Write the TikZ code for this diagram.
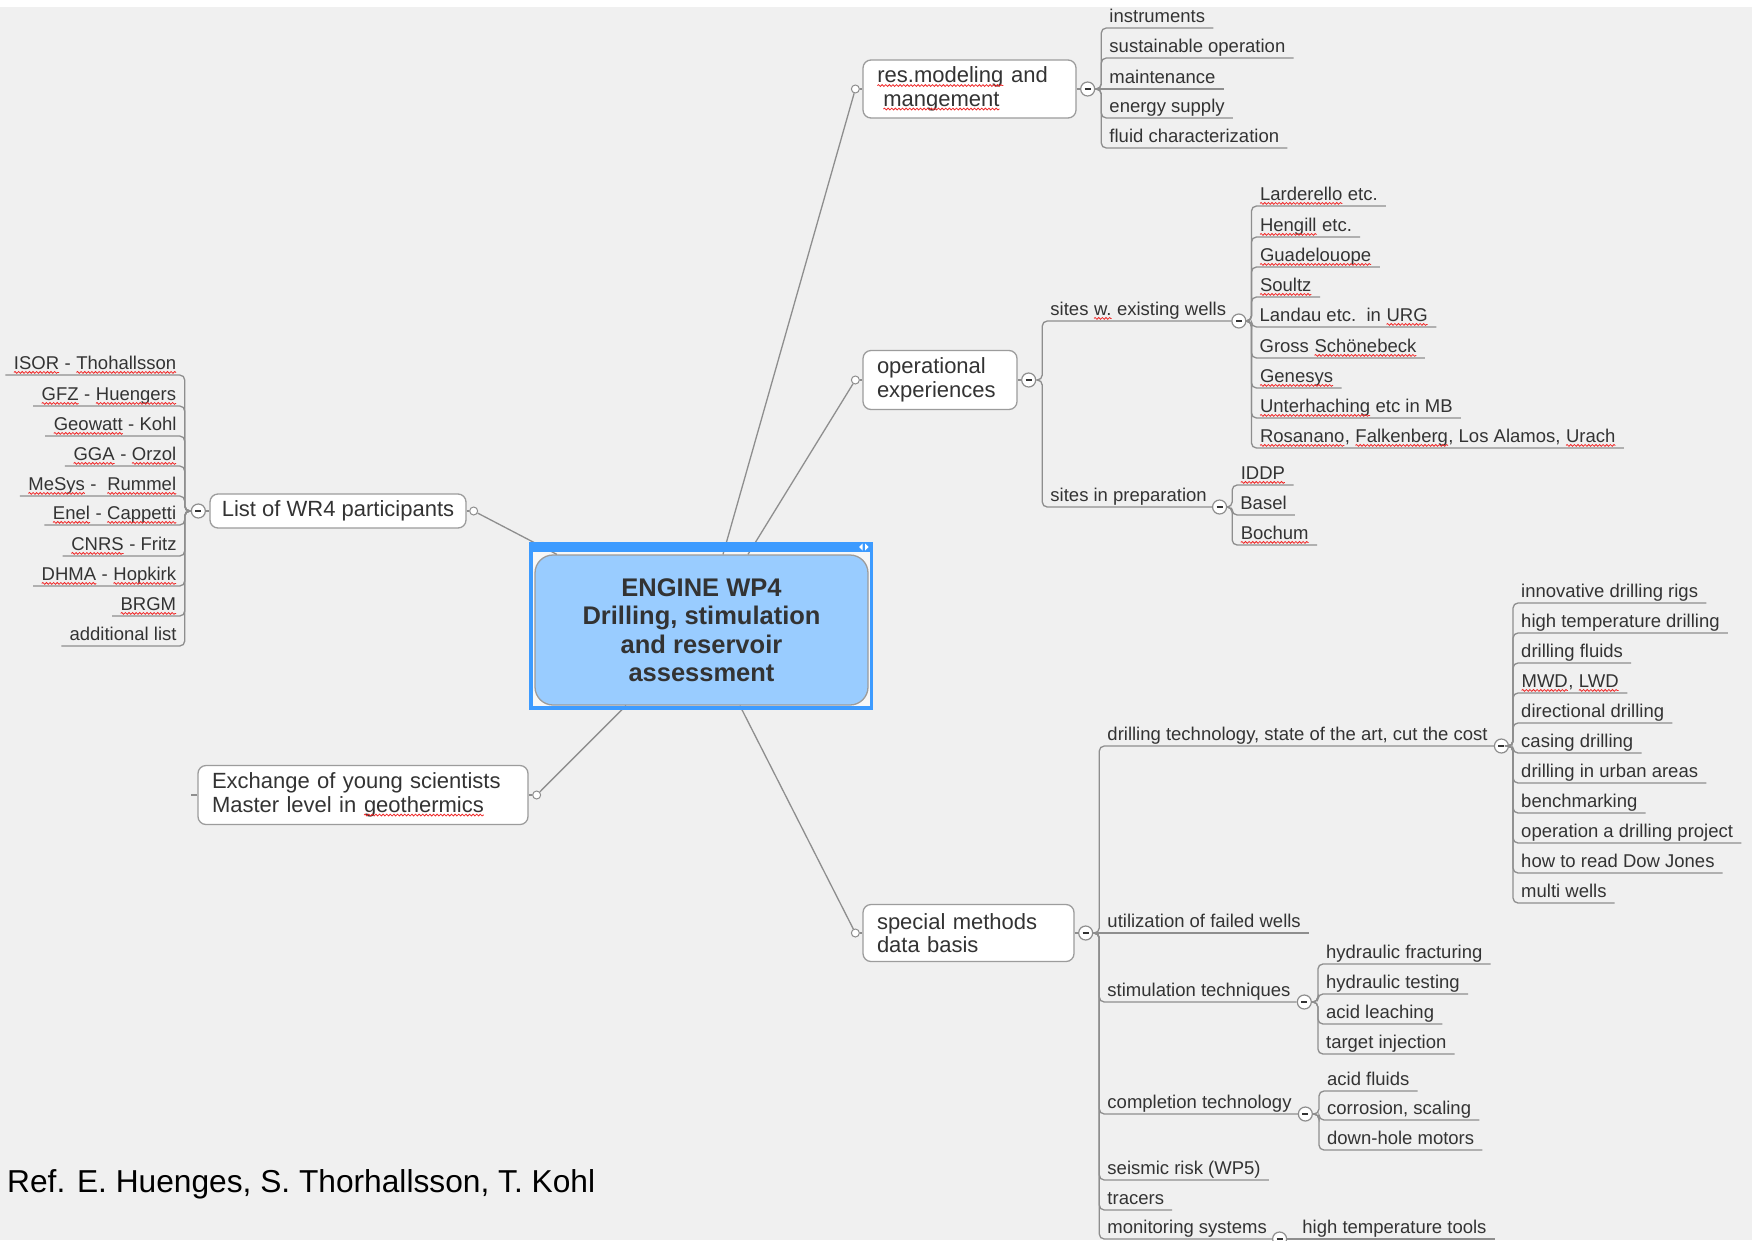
\documentclass[tikz,border=0pt]{standalone}
\usepackage{fontspec}
\setmainfont{Liberation Sans}
\usetikzlibrary{decorations.pathmorphing}
\definecolor{bgcol}{HTML}{F0F0F0}
\definecolor{linegray}{HTML}{8E8E8E}
\definecolor{boxgray}{HTML}{9C9C9C}
\definecolor{txt}{HTML}{333333}
\definecolor{blueB}{HTML}{3D9BFF}
\definecolor{lblue}{HTML}{99CCFF}
\definecolor{gapcol}{HTML}{F7F7F7}
\definecolor{sqred}{HTML}{F02828}
\newcommand\leaffont{\fontsize{18.5}{21}\selectfont}
\newcommand\topicfont{\fontsize{22}{23.5}\selectfont}
\newcommand\sq[1]{\tikz[baseline=(sqw.base)]{\node[draw=none,fill=none,inner sep=0pt,outer sep=0pt,anchor=base,text height=,text depth=,text width=,align=none,minimum width=0pt,minimum height=0pt](sqw){#1};\draw[sqred,sharp corners,line width=0.8pt,decorate,decoration={snake,amplitude=0.9pt,segment length=3.6pt}]([yshift=-2.6pt]sqw.base west)--([yshift=-2.6pt]sqw.base east);}}
\newcommand\brR[2]{\draw[conn] (#1.east) -| (#2.south west) -- (#2.south east);}
\newcommand\brS[2]{\draw[straight] (#1.east) -- (#2.south east);}
\newcommand\brP[3]{\draw[conn] (#1.east) -| (#2.south west) -- (#3.west);}
\newcommand\brL[2]{\draw[conn] (#1.west) -| (#2.south east) -- (#2.south west);}
\tikzset{
  straight/.style={draw=linegray, line width=1.3pt},
  conn/.style={straight, rounded corners=5pt},
  leafR/.style={anchor=south west, inner xsep=8pt, inner ysep=1pt, text height=13.5pt, text depth=4pt, font=\leaffont, text=txt},
  leafL/.style={leafR, anchor=south east},
  topic/.style={draw=boxgray, fill=white, rounded corners=8pt, line width=1.3pt, inner xsep=14pt, inner ysep=4pt, font=\topicfont, text=txt, align=left},
  col/.style={circle, draw=linegray, fill=white, line width=1.2pt, minimum size=14pt, inner sep=0pt,
    path picture={\draw[line width=1.6pt, txt] ([xshift=-3pt]path picture bounding box.center) -- ([xshift=3pt]path picture bounding box.center);}},
  dot/.style={circle, draw=linegray, fill=white, line width=1pt, minimum size=8pt, inner sep=0pt}
}
\begin{document}
\begin{tikzpicture}[x=1pt,y=-1pt]
\fill[bgcol] (0,0) rectangle (1752,1240);
\fill[white] (0,0) rectangle (1752,7);
\useasboundingbox (0,0) rectangle (1752,1240);
% centre
\fill[gapcol] (531,544) rectangle (871.5,708);
\node[draw=boxgray, fill=lblue, rounded corners=18pt, line width=1.3pt, minimum width=333pt, minimum height=150pt, align=center, font=\bfseries\fontsize{25.5}{28.5}\selectfont, text=txt, inner sep=0pt] (eng) at (701.5,630) {ENGINE WP4\\Drilling, stimulation\\and reservoir\\assessment};
% topics
\node[topic, text width=185pt, minimum height=58pt] (res) at (969.5,89) {\sq{res.modeling} and\\\hspace*{6pt}\sq{mangement}};
\node[topic, text width=126pt, minimum height=59pt] (op) at (940,380) {operational\\experiences};
\node[topic, text width=183pt, minimum height=57pt] (sp) at (968.5,933) {special methods\\data basis};
\node[topic, text width=302pt, minimum height=59pt] (ex) at (363,795) {Exchange of young scientists\\Master level in \sq{geothermics}};
\node[topic, minimum width=256pt, minimum height=34pt, align=center, inner xsep=10pt] (lst) at (338,511) {List of WR4 participants};
\coordinate (exstub) at ([xshift=-6pt]ex.west);
% attachment dots and collapse circles
\node[dot] (dres) at ([xshift=-7pt]res.west) {};
\node[dot] (dop) at ([xshift=-7pt]op.west) {};
\node[dot] (dsp) at ([xshift=-7pt]sp.west) {};
\node[dot] (dex) at ([xshift=8pt]ex.east) {};
\node[dot] (dlst) at ([xshift=7pt]lst.east) {};
\node[col] (c1) at ([xshift=11pt]res.east) {};
\node[col] (c2) at ([xshift=11pt]op.east) {};
\node[col] (c5) at ([xshift=11pt]sp.east) {};
\node[col] (cL) at ([xshift=-11pt]lst.west) {};
\coordinate (b1) at ([xshift=6pt]c1.east);
\coordinate (b2) at ([xshift=6pt]c2.east);
\coordinate (b5) at ([xshift=6pt]c5.east);
\coordinate (bL) at ([xshift=-6pt]cL.west);
% res.modeling leaves
\node[leafR] (r1) at (b1 |- 0,28) {instruments};
\node[leafR] (r2) at (b1 |- 0,58) {sustainable operation};
\node[leafR] (r3) at (b1 |- 0,89) {maintenance};
\node[leafR] (r4) at (b1 |- 0,118) {energy supply};
\node[leafR] (r5) at (b1 |- 0,148) {fluid characterization};
% operational experiences
\node[leafR] (o1) at (b2 |- 0,321) {sites \sq{w.} existing wells};
\node[col, anchor=west] (c3) at ([xshift=-3pt]o1.south east) {};
\node[leafR] (o2) at (b2 |- 0,507) {sites in preparation};
\node[col, anchor=west] (c4) at ([xshift=-3pt]o2.south east) {};
\coordinate (b3) at ([xshift=5pt]c3.east);
\coordinate (b4) at ([xshift=5pt]c4.east);
\node[leafR] (w1) at (b3 |- 0,206) {\sq{Larderello} etc.};
\node[leafR] (w2) at (b3 |- 0,237) {\sq{Hengill} etc.};
\node[leafR] (w3) at (b3 |- 0,267) {\sq{Guadelouope}};
\node[leafR] (w4) at (b3 |- 0,297) {\sq{Soultz}};
\node[leafR] (w5) at (b3 |- 0,327) {Landau etc.\ \ in \sq{URG}};
\node[leafR] (w6) at (b3 |- 0,358) {Gross \sq{Schönebeck}};
\node[leafR] (w7) at (b3 |- 0,388) {\sq{Genesys}};
\node[leafR] (w8) at (b3 |- 0,418) {\sq{Unterhaching} etc in MB};
\node[leafR] (w9) at (b3 |- 0,448) {\sq{Rosanano}, \sq{Falkenberg}, Los Alamos, \sq{Urach}};
\node[leafR] (p1) at (b4 |- 0,485) {\sq{IDDP}};
\node[leafR] (p2) at (b4 |- 0,515) {Basel};
\node[leafR] (p3) at (b4 |- 0,545) {\sq{Bochum}};
% special methods
\node[leafR] (s1) at (b5 |- 0,746) {drilling technology, state of the art, cut the cost};
\node[col, anchor=west] (c6) at ([xshift=-2pt]s1.south east) {};
\node[leafR] (s2) at (b5 |- 0,933) {utilization of failed wells};
\node[leafR] (s3) at (b5 |- 0,1002) {stimulation techniques};
\node[col, anchor=west] (c7) at ([xshift=-2pt]s3.south east) {};
\node[leafR] (s4) at (b5 |- 0,1114) {completion technology};
\node[col, anchor=west] (c8) at ([xshift=-2pt]s4.south east) {};
\node[leafR] (s5) at (b5 |- 0,1180) {seismic risk (WP5)};
\node[leafR] (s6) at (b5 |- 0,1210) {tracers};
\node[leafR] (s7) at (b5 |- 0,1239) {monitoring systems};
\node[col, anchor=west] (c9) at ([xshift=-3pt]s7.south east) {};
\coordinate (b6) at ([xshift=4pt]c6.east);
\coordinate (b7) at ([xshift=6pt]c7.east);
\coordinate (b8) at ([xshift=6pt]c8.east);
\coordinate (b9) at ([xshift=7pt]c9.east);
\node[leafR] (d1) at (b6 |- 0,603) {innovative drilling rigs};
\node[leafR] (d2) at (b6 |- 0,633) {high temperature drilling};
\node[leafR] (d3) at (b6 |- 0,663) {drilling fluids};
\node[leafR] (d4) at (b6 |- 0,693) {\sq{MWD}, \sq{LWD}};
\node[leafR] (d5) at (b6 |- 0,723) {directional drilling};
\node[leafR] (d6) at (b6 |- 0,753) {casing drilling};
\node[leafR] (d7) at (b6 |- 0,783) {drilling in urban areas};
\node[leafR] (d8) at (b6 |- 0,813) {benchmarking};
\node[leafR] (d9) at (b6 |- 0,843) {operation a drilling project};
\node[leafR] (d10) at (b6 |- 0,873) {how to read Dow Jones};
\node[leafR] (d11) at (b6 |- 0,903) {multi wells};
\node[leafR] (h1) at (b7 |- 0,964) {hydraulic fracturing};
\node[leafR] (h2) at (b7 |- 0,994) {hydraulic testing};
\node[leafR] (h3) at (b7 |- 0,1024) {acid leaching};
\node[leafR] (h4) at (b7 |- 0,1054) {target injection};
\node[leafR] (k1) at (b8 |- 0,1091) {acid fluids};
\node[leafR] (k2) at (b8 |- 0,1120) {corrosion, scaling};
\node[leafR] (k3) at (b8 |- 0,1150) {down-hole motors};
\node[leafR] (t1) at (b9 |- 0,1239) {high temperature tools};
% participants
\node[leafL] (l1) at (bL |- 0,375) {\sq{ISOR} - \sq{Thohallsson}};
\node[leafL] (l2) at (bL |- 0,406) {\sq{GFZ} - \sq{Huengers}};
\node[leafL] (l3) at (bL |- 0,436) {\sq{Geowatt} - Kohl};
\node[leafL] (l4) at (bL |- 0,466) {\sq{GGA} - \sq{Orzol}};
\node[leafL] (l5) at (bL |- 0,496) {\sq{MeSys} -\ \ \sq{Rummel}};
\node[leafL] (l6) at (bL |- 0,525) {\sq{Enel} - \sq{Cappetti}};
\node[leafL] (l7) at (bL |- 0,556) {\sq{CNRS} - Fritz};
\node[leafL] (l8) at (bL |- 0,586) {\sq{DHMA} - \sq{Hopkirk}};
\node[leafL] (l9) at (bL |- 0,616) {\sq{BRGM}};
\node[leafL] (l10) at (bL |- 0,646) {additional list};
% footer
\node[anchor=base west, inner sep=0pt, font=\fontsize{31.7}{34}\selectfont, text=black] (ref) at (7,1192) {Ref. E. Huenges, S. Thorhallsson, T. Kohl};
% connectors
\draw[straight] (eng) -- (dres);
\draw[straight] (eng) -- (dop);
\draw[straight] (eng) -- (dsp);
\draw[straight] (eng) -- (dex);
\draw[straight] (eng) -- (dlst);
\draw[straight] (dres) -- (res.west);
\draw[straight] (dop) -- (op.west);
\draw[straight] (dsp) -- (sp.west);
\draw[straight] (ex.east) -- (dex);
\draw[straight] (lst.east) -- (dlst);
\draw[straight] (ex.west) -- (exstub);
\draw[straight] (res.east) -- (c1);
\draw[straight] (op.east) -- (c2);
\draw[straight] (sp.east) -- (c5);
\draw[straight] (lst.west) -- (cL);
\brR{c1}{r1}\brR{c1}{r2}\brS{c1}{r3}\brR{c1}{r4}\brR{c1}{r5}
\brP{c2}{o1}{c3}\brP{c2}{o2}{c4}
\brR{c3}{w1}\brR{c3}{w2}\brR{c3}{w3}\brR{c3}{w4}\brR{c3}{w5}\brR{c3}{w6}\brR{c3}{w7}\brR{c3}{w8}\brR{c3}{w9}
\brR{c4}{p1}\brR{c4}{p2}\brR{c4}{p3}
\brP{c5}{s1}{c6}\brS{c5}{s2}\brP{c5}{s3}{c7}\brP{c5}{s4}{c8}\brR{c5}{s5}\brR{c5}{s6}\brP{c5}{s7}{c9}
\brR{c6}{d1}\brR{c6}{d2}\brR{c6}{d3}\brR{c6}{d4}\brR{c6}{d5}\brR{c6}{d6}\brR{c6}{d7}\brR{c6}{d8}\brR{c6}{d9}\brR{c6}{d10}\brR{c6}{d11}
\brR{c7}{h1}\brR{c7}{h2}\brR{c7}{h3}\brR{c7}{h4}
\brR{c8}{k1}\brR{c8}{k2}\brR{c8}{k3}
\brS{c9}{t1}
\brL{cL}{l1}\brL{cL}{l2}\brL{cL}{l3}\brL{cL}{l4}\brL{cL}{l5}\brL{cL}{l6}\brL{cL}{l7}\brL{cL}{l8}\brL{cL}{l9}\brL{cL}{l10}
% blue selection frame of the central topic
\draw[blueB, line width=3.5pt] (531,544) rectangle (871.5,708);
\fill[blueB] (529.25,541.5) rectangle (873.25,552);
\fill[white] (859,547) -- (862.5,543.5) -- (862.5,550.5) -- cycle;
\fill[white] (865,543.5) -- (868.5,547) -- (865,550.5) -- cycle;
\end{tikzpicture}
\end{document}
